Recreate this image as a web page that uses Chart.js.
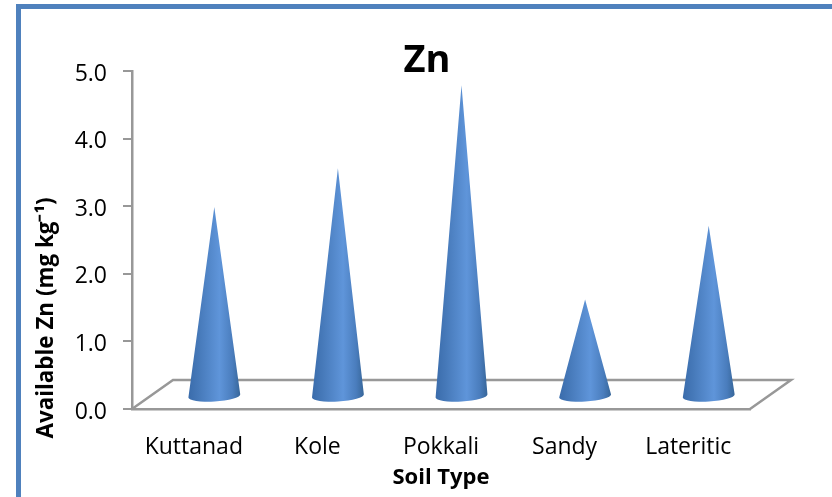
<!DOCTYPE html>
<html>
<head>
<meta charset="utf-8">
<script src="https://cdn.jsdelivr.net/npm/chart.js@4/dist/chart.umd.js"></script>
<style>
    body { margin: 0; background: #fff; overflow: hidden; }
    #frame {
        position: absolute; left: 16px; top: 4px; width: 830px; height: 491px;
        border-left: 5px solid #4f81bd; border-top: 5px solid #4f81bd; border-bottom: 1px solid #7ba0cd;
    }
    #chart { position: absolute; left: 0; top: 0; }
</style>
</head>
<body>
<div id="frame"></div>
<canvas id="chart" width="832" height="497"></canvas>
<script>
// Values
const categories = ["Kuttanad", "Kole", "Pokkali", "Sandy", "Lateritic"];
const znValues = [2.99, 3.56, 4.79, 1.62, 2.71];

const chartTitle = "Zn";
const xAxisTitle = "Soil Type";
const yAxisTitle = "Available Zn (mg kg⁻¹)";

const fontName = "'Open Sans', sans-serif";
const axisGray = "#989898";

// The floor of the fake 3D box, as an offset from the front axis
const depthX = 41;
const depthY = 29;

// Floor and cones are painted on top of the bars that the library lays out
const conePlugin = {
    id: "cones",
    afterLayout(chart) {
        // title sits a bit left of the plot centre
        chart.titleBlock.left -= 14;
        chart.titleBlock.right -= 14;
    },
    beforeDatasetsDraw(chart) {
        const { ctx, chartArea } = chart;
        ctx.save();
        ctx.strokeStyle = axisGray;
        ctx.lineWidth = 2.5;
        ctx.beginPath();
        ctx.moveTo(chartArea.left, chartArea.bottom);
        ctx.lineTo(chartArea.left + depthX, chartArea.bottom - depthY);
        ctx.lineTo(chartArea.right + depthX, chartArea.bottom - depthY);
        ctx.lineTo(chartArea.right, chartArea.bottom);
        ctx.stroke();
        ctx.restore();
    },
    afterDatasetsDraw(chart) {
        const { ctx } = chart;
        chart.getDatasetMeta(0).data.forEach(bar => {
            const cx = bar.x + depthX / 2;
            const cy = bar.base - 12;
            const rx = bar.width / 2;
            const ry = 5.5;
            const tilt = -0.06;

            const grad = ctx.createLinearGradient(cx - rx, 0, cx + rx, 0);
            grad.addColorStop(0, "#3a6cab");
            grad.addColorStop(0.2, "#4679b9");
            grad.addColorStop(0.6, "#5f95da");
            grad.addColorStop(0.85, "#4a7dbd");
            grad.addColorStop(1, "#376699");

            ctx.save();
            ctx.fillStyle = grad;
            ctx.beginPath();
            ctx.moveTo(cx, bar.y);
            ctx.lineTo(cx + rx, cy - 1.5);
            ctx.ellipse(cx, cy, rx, ry, tilt, 0, Math.PI);
            ctx.closePath();
            ctx.fill();
            ctx.restore();
        });
    },
    afterDraw(chart) {
        // the axis title hangs well below the middle of the axis, the scale title cannot do that
        const { ctx } = chart;
        ctx.save();
        ctx.translate(47, 318);
        ctx.rotate(-Math.PI / 2);
        ctx.font = "bold 22.4px " + fontName;
        ctx.fillStyle = "#000";
        ctx.textAlign = "center";
        ctx.textBaseline = "middle";
        ctx.fillText(yAxisTitle, 0, 0);
        ctx.restore();
    }
};

new Chart(document.getElementById("chart"), {
    type: "bar",
    data: {
        labels: categories,
        datasets: [{
            label: "Zn",
            data: znValues,
            backgroundColor: "rgba(0,0,0,0)",
            categoryPercentage: 1,
            barPercentage: 0.42
        }]
    },
    options: {
        responsive: false,
        animation: false,
        layout: { padding: { left: 30, right: 82, top: 0, bottom: 0 } },
        plugins: {
            legend: { display: false },
            tooltip: { enabled: false },
            title: {
                display: true,
                text: chartTitle,
                fullSize: false,
                color: "#000",
                font: { family: fontName, size: 38, weight: "bold", lineHeight: 1 },
                padding: { top: 42, bottom: -9 }
            }
        },
        scales: {
            x: {
                afterFit(scale) { scale.height = 88; },
                grid: { display: false },
                border: { color: axisGray, width: 2.5 },
                ticks: { color: "#000", padding: 17, font: { family: fontName, size: 23 }, maxRotation: 0 },
                title: {
                    display: true,
                    text: xAxisTitle,
                    color: "#000",
                    font: { family: fontName, size: 22, weight: "bold" },
                    padding: { top: 0, bottom: 6 }
                }
            },
            y: {
                min: 0,
                max: 5,
                afterFit(scale) { scale.width = 102; },
                grid: { drawOnChartArea: false, color: axisGray, lineWidth: 2, tickLength: 9 },
                border: { color: axisGray, width: 2.5 },
                ticks: {
                    stepSize: 1,
                    color: "#000",
                    padding: 16,
                    labelOffset: 3,
                    font: { family: fontName, size: 23 },
                    callback: value => value.toFixed(1)
                }
            }
        }
    },
    plugins: [conePlugin]
});
</script>
</body>
</html>
